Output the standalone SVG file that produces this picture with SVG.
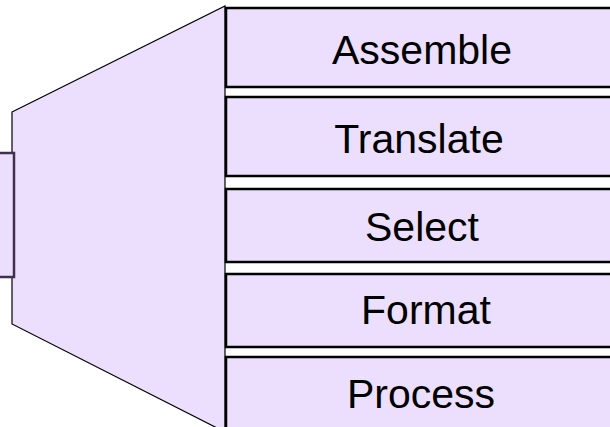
<svg xmlns="http://www.w3.org/2000/svg" width="610" height="427" viewBox="0 0 610 427">
<style>
.fill{fill:#ECDFFD}
.box{fill:#ECDFFD;stroke:#000;stroke-width:2.5}
.lbl{font-family:"Liberation Sans",Arial,sans-serif;font-size:41px;fill:#000;text-anchor:middle}
</style>
<rect width="610" height="427" fill="#fff"/>
<g id="connectors">
<polygon class="fill" points="12,112 225,6 225,432 12,324" stroke="#000" stroke-width="1.2"/>
</g>
<g id="source">
<rect x="-5" y="153" width="19" height="124" fill="#ECDFFD" stroke="#3F3050" stroke-width="2.5"/>
</g>
<g id="assemble">
<rect class="box" x="226" y="8" width="400" height="79"/>
<text class="lbl" x="422" y="64">Assemble</text>
</g>
<g id="translate">
<rect class="box" x="226" y="97" width="400" height="79"/>
<text class="lbl" x="419" y="153">Translate</text>
</g>
<g id="select">
<rect class="box" x="226" y="189" width="400" height="73"/>
<text class="lbl" x="422" y="241">Select</text>
</g>
<g id="format">
<rect class="box" x="226" y="274" width="400" height="73"/>
<text class="lbl" x="426" y="324">Format</text>
</g>
<g id="process">
<rect class="box" x="226" y="357" width="400" height="80"/>
<text class="lbl" x="421" y="408">Process</text>
</g>
</svg>
